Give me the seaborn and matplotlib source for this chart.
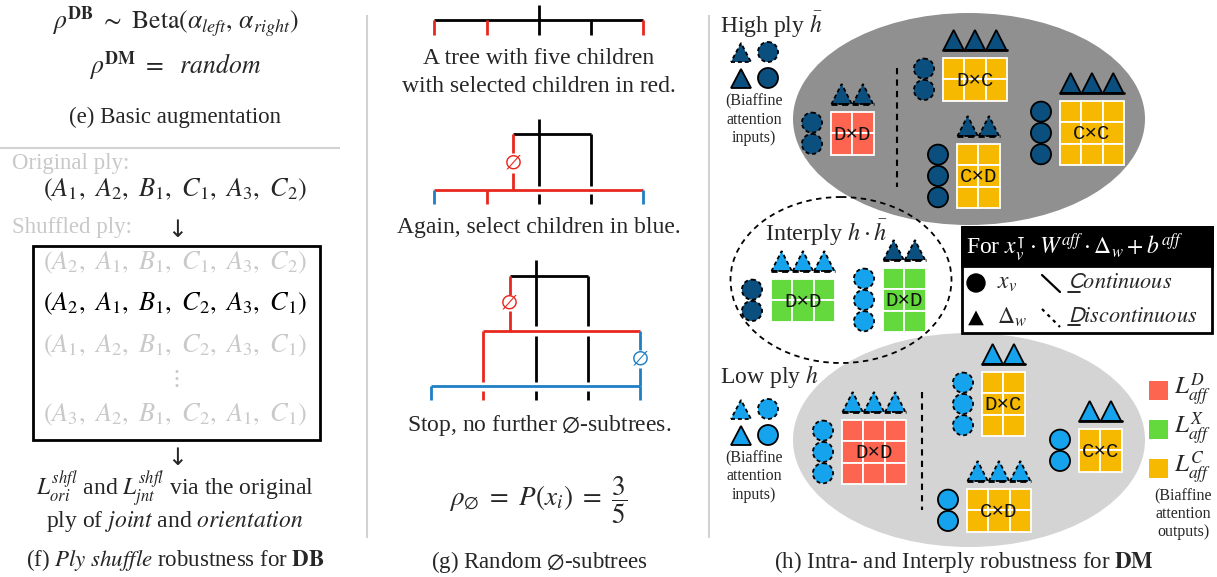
import seaborn as sns
import matplotlib.pyplot as plt
from matplotlib.patches import Rectangle, Circle, Ellipse, Polygon

sns.set_theme(style='white')
plt.rcParams['font.family'] = ['Liberation Serif', 'DejaVu Serif']
plt.rcParams['mathtext.fontset'] = 'stix'

# colours
DARK = '#0b4f7f'
LIGHT = '#14a3ec'
RED_CELL = '#fe6550'
GREEN_CELL = '#63d93d'
ORANGE_CELL = '#f6b900'
TREE_RED = '#e8281e'
TREE_BLUE = '#1f7fc4'
FADED = '#c9c9c9'
SEP = '#d2d2d2'

# panel (f): original ply and its shuffles (None = vertical dots)
original_ply = ['A_1', 'A_2', 'B_1', 'C_1', 'A_3', 'C_2']
shuffled_plies = [['A_2', 'A_1', 'B_1', 'C_1', 'A_3', 'C_2'],
                  ['A_2', 'A_1', 'B_1', 'C_2', 'A_3', 'C_1'],
                  ['A_1', 'A_2', 'B_1', 'C_2', 'A_3', 'C_1'],
                  None,
                  ['A_3', 'A_2', 'B_1', 'C_2', 'A_1', 'C_1']]
picked_shuffle = 1

# panel (g): texts
tree_texts = ['A tree with five children', 'with selected children in red.',
              'Again, select children in blue.',
              r'Stop, no further $\emptyset$-subtrees.']

# panel (h): biaffine blocks per ply
high_labels = ['D×D', 'D×C', 'C×D', 'C×C']
high_rows = [2, 2, 3, 3]
high_cols = [2, 3, 2, 3]
high_circ_dashed = [True, True, False, False]
high_tri_dashed = [True, False, True, False]

inter_labels = ['D×D', 'D×D']
inter_rows = [2, 3]
inter_cols = [3, 2]

low_labels = ['D×D', 'D×C', 'C×C', 'C×D']
low_rows = [3, 3, 2, 2]
low_cols = [3, 2, 2, 3]
low_circ_dashed = [True, True, False, False]
low_tri_dashed = [True, False, False, True]

loss_labels = [r'$L^{D}_{aff}$', r'$L^{X}_{aff}$', r'$L^{C}_{aff}$']
loss_colors = [RED_CELL, GREEN_CELL, ORANGE_CELL]

# layout (pixel positions, top-left of each matrix)
high_pos = [(831, 112), (943, 58), (957, 144), (1060, 101)]
inter_pos = [(771, 279), (883, 268)]
low_pos = [(842, 420), (982, 372), (1079, 429), (967, 489)]

fig = plt.figure(figsize=(12.17, 5.77), dpi=100)
ax = fig.add_axes([0, 0, 1, 1])
ax.set_xlim(0, 1217)
ax.set_ylim(577, 0)
ax.axis('off')

FS = 16.5      # captions
BODY = 17      # body text
DASH = (0, (2.2, 1.6))


def tri(x0, base, w, h, color, dashed, lw=1.3):
    ax.add_patch(Polygon([(x0, base), (x0 + w, base), (x0 + w / 2, base - h)], closed=True,
                         facecolor=color, edgecolor='black', lw=lw,
                         linestyle=DASH if dashed else '-', zorder=3))


def circ(x, y, r, color, dashed, lw=1.3):
    ax.add_patch(Circle((x, y), r, facecolor=color, edgecolor='black', lw=lw,
                        linestyle=DASH if dashed else '-', zorder=3))


def block(x, y, nrow, ncol, fill, label, ccol, cdash, tcol, tdash, cell=21.3):
    for i in range(nrow):
        for j in range(ncol):
            ax.add_patch(Rectangle((x + j * cell, y + i * cell), cell, cell,
                                   facecolor=fill, edgecolor='white', lw=1.3, zorder=2))
    ax.text(x + ncol * cell / 2, y + nrow * cell / 2 + 1, label, ha='center', va='center',
            family='Liberation Mono', fontsize=15, color='#111111', zorder=4)
    for i in range(nrow):
        circ(x - 19, y + (i + 0.5) * cell, cell / 2 - 0.6, ccol, cdash)
    base = y - 8
    for j in range(ncol):
        tri(x + j * cell + 0.5, base, cell - 1, 20, tcol, tdash)
    ax.plot([x, x + ncol * cell], [base, base], color='black', lw=2,
            linestyle=DASH if tdash else '-', zorder=4)


def vline(x, y0, y1, c='black', lw=2):
    ax.plot([x, x], [y0, y1], color=c, lw=lw, solid_capstyle='butt')


def hline(y, x0, x1, c='black', lw=2):
    ax.plot([x0, x1], [y, y], color=c, lw=lw, solid_capstyle='butt')


def ply_text(items):
    return '$(' + r',\ '.join(items) + ')$'


# separators
vline(367, 15, 538, SEP, 1.5)
vline(709, 15, 538, SEP, 1.5)
hline(148, 0, 340, SEP, 1.5)

# ---------------- panel (e)
ax.text(175, 22, r'$\rho^{\mathbf{DB}}\ \sim\ \mathrm{Beta}(\alpha_{left},\, \alpha_{right})$',
        ha='center', va='center', fontsize=18.5)
ax.text(175, 66, r'$\rho^{\mathbf{DM}}\ =\ \ \mathit{random}$', ha='center', va='center',
        fontsize=18.5)
ax.text(175, 117, '(e) Basic augmentation', ha='center', va='center', fontsize=FS)

# ---------------- panel (f)
ax.text(12, 163, 'Original ply:', ha='left', va='center', fontsize=FS, color=FADED)
ax.text(175, 190, ply_text(original_ply), ha='center', va='center', fontsize=19)
ax.text(12, 228, 'Shuffled ply:', ha='left', va='center', fontsize=FS, color=FADED)
ax.text(177, 230, '↓', ha='center', va='center', fontsize=17, family='DejaVu Sans')
ax.add_patch(Rectangle((33, 246), 287, 194, fill=False, edgecolor='black', lw=2))
row_y = [263, 304, 346, 379, 415]
for yy, items in zip(row_y, shuffled_plies):
    if items is None:
        ax.text(175, yy, r'$\vdots$', ha='center', va='center', fontsize=17, color=FADED)
        continue
    col = 'black' if items == shuffled_plies[picked_shuffle] else FADED
    ax.text(175, yy, ply_text(items), ha='center', va='center', fontsize=19, color=col)
ax.text(177, 458, '↓', ha='center', va='center', fontsize=17, family='DejaVu Sans')
ax.text(175, 489, r'$L^{shfl}_{ori}$ and $L^{shfl}_{jnt}$ via the original',
        ha='center', va='center', fontsize=BODY)
ax.text(175, 522, r'ply of $\mathit{joint}$ and $\mathit{orientation}$',
        ha='center', va='center', fontsize=BODY)
ax.text(175, 560, r'(f) $\mathit{Ply\ shuffle}$ robustness for $\mathbf{DB}$',
        ha='center', va='center', fontsize=FS)

# ---------------- panel (g)
# tree 1
hline(20, 434, 643)
vline(539, 5, 35)
for xx, c in zip([434, 487, 591, 643], [TREE_RED, TREE_RED, 'black', TREE_RED]):
    vline(xx, 20, 35, c)
ax.text(539, 58, tree_texts[0], ha='center', va='center', fontsize=BODY)
ax.text(539, 86, tree_texts[1], ha='center', va='center', fontsize=BODY)

# tree 2
vline(539, 119, 186)
hline(134, 513, 591)
vline(591, 134, 186)
vline(513, 134, 153, TREE_RED)
ax.text(513, 163, r'$\emptyset$', color=TREE_RED, ha='center', va='center', fontsize=16)
vline(513, 173, 190, TREE_RED)
hline(190, 434, 643, TREE_RED)
for xx, c, y0 in zip([434, 487, 539, 591, 643], [TREE_BLUE, TREE_RED, 'black', 'black', TREE_BLUE],
                     [190, 190, 194, 194, 190]):
    vline(xx, y0, 204, c)
ax.text(539, 228, tree_texts[2], ha='center', va='center', fontsize=BODY)

# tree 3
vline(536, 260, 326)
hline(276, 510, 588)
vline(588, 276, 326)
vline(510, 276, 295, TREE_RED)
ax.text(509, 303, r'$\emptyset$', color=TREE_RED, ha='center', va='center', fontsize=16)
vline(510, 311, 331, TREE_RED)
hline(331, 483, 640, TREE_RED)
vline(483, 331, 382, TREE_RED)
vline(536, 336, 382)
vline(588, 336, 382)
vline(640, 331, 350, TREE_BLUE)
ax.text(640, 359, r'$\emptyset$', color=TREE_BLUE, ha='center', va='center', fontsize=16)
vline(640, 368, 386, TREE_BLUE)
hline(386, 431, 640, TREE_BLUE)
for xx, c, y0 in zip([431, 483, 536, 588, 640], [TREE_BLUE, TREE_RED, 'black', 'black', TREE_BLUE],
                     [386, 391, 391, 391, 386]):
    vline(xx, y0, 400, c)
ax.text(539, 425, tree_texts[3], ha='center', va='center', fontsize=BODY)
ax.text(538, 500, r'$\rho_{\emptyset}\ =\ P(x_i)\ =\ \dfrac{3}{5}$', ha='center', va='center',
        fontsize=19.5)
ax.text(539, 562, r'(g) Random $\emptyset$-subtrees', ha='center', va='center', fontsize=FS)

# ---------------- panel (h)
ax.add_patch(Ellipse((969, 119), 352, 212, facecolor='#909090', edgecolor='none', zorder=1))
ax.add_patch(Ellipse((969, 440), 352, 214, facecolor='#d4d4d4', edgecolor='none', zorder=1))
ax.add_patch(Ellipse((841, 280), 221, 166, facecolor='none', edgecolor='black', lw=1.3,
                     linestyle=(0, (3, 2.5)), zorder=5))
ax.plot([897, 897], [68, 187], color='black', lw=1.5, linestyle=(0, (3, 2.5)), zorder=2)
ax.plot([922, 922], [392, 510], color='black', lw=1.5, linestyle=(0, (3, 2.5)), zorder=2)

for (x, y), nr, nc, lab, cd, td in zip(high_pos, high_rows, high_cols, high_labels,
                                        high_circ_dashed, high_tri_dashed):
    fill = RED_CELL if lab == 'D×D' else ORANGE_CELL
    block(x, y, nr, nc, fill, lab, DARK, cd, DARK, td)

inter_circ = [DARK, LIGHT]
inter_tri = [LIGHT, DARK]
for (x, y), nr, nc, lab, cc, tc in zip(inter_pos, inter_rows, inter_cols, inter_labels,
                                        inter_circ, inter_tri):
    block(x, y, nr, nc, GREEN_CELL, lab, cc, True, tc, True)

for (x, y), nr, nc, lab, cd, td in zip(low_pos, low_rows, low_cols, low_labels,
                                        low_circ_dashed, low_tri_dashed):
    fill = RED_CELL if lab == 'D×D' else ORANGE_CELL
    block(x, y, nr, nc, fill, lab, LIGHT, cd, LIGHT, td)

# ply headings and input legends
ax.text(720, 25, r'High ply $\bar{h}$', ha='left', va='center', fontsize=17)
ax.text(765, 233, r'Interply $h \cdot \bar{h}$', ha='left', va='center', fontsize=17.5)
ax.text(720, 376, r'Low ply $h$', ha='left', va='center', fontsize=17)
for col, ytop in zip([DARK, LIGHT], [52, 409]):
    tri(731, ytop + 10, 20, 19, col, True)
    circ(768, ytop, 10, col, True)
    tri(731, ytop + 36, 20, 19, col, False)
    circ(768, ytop + 26, 10, col, False)
    for k, w in enumerate(['(Biaffine', 'attention', 'inputs)']):
        ax.text(754, ytop + 49 + k * 18.5, w, ha='center', va='center', fontsize=11.5)

# formula legend box
ax.add_patch(Rectangle((962, 227), 250, 106, facecolor='white', edgecolor='black', lw=2, zorder=5))
ax.add_patch(Rectangle((962, 227), 250, 39, facecolor='black', edgecolor='black', lw=2, zorder=5))
ax.text(966, 247, r'For $x_v^{\intercal} \cdot W^{aff} \cdot \Delta_w + b^{aff}$',
        color='white', ha='left', va='center', fontsize=17, zorder=6)
ax.add_patch(Circle((976, 283), 9, facecolor='black', edgecolor='black', zorder=6))
ax.add_patch(Polygon([(967, 326), (985, 326), (976, 309)], closed=True, facecolor='black', zorder=6))
ax.text(997, 283, r'$x_v$', ha='left', va='center', fontsize=17, zorder=6)
ax.text(997, 317, r'$\Delta_w$', ha='left', va='center', fontsize=17, zorder=6)
ax.plot([1042, 1060], [275, 292], color='black', lw=1.6, zorder=6)
ax.plot([1042, 1060], [309, 327], color='black', lw=1.6, linestyle=(0, (1.5, 2)), zorder=6)
ax.text(1068, 283, r'$\mathsf{C}\mathit{ontinuous}$', ha='left', va='center', fontsize=16, zorder=6)
ax.text(1068, 317, r'$\mathsf{D}\mathit{iscontinuous}$', ha='left', va='center', fontsize=16, zorder=6)
ax.plot([1068, 1080], [292, 292], color='black', lw=1.2, zorder=6)
ax.plot([1068, 1080], [325, 325], color='black', lw=1.2, zorder=6)

# loss legend
for k, (lab, col) in enumerate(zip(loss_labels, loss_colors)):
    yc = 390 + k * 39
    ax.add_patch(Rectangle((1149, yc - 9.5), 19, 19, facecolor=col, edgecolor='none'))
    ax.text(1174, yc, lab, ha='left', va='center', fontsize=18)
for k, w in enumerate(['(Biaffine', 'attention', 'outputs)']):
    ax.text(1183, 496 + k * 18, w, ha='center', va='center', fontsize=11.5)

ax.text(964, 562, r'(h) Intra- and Interply robustness for $\mathbf{DM}$',
        ha='center', va='center', fontsize=FS)

fig.savefig('out.png', dpi=100)
